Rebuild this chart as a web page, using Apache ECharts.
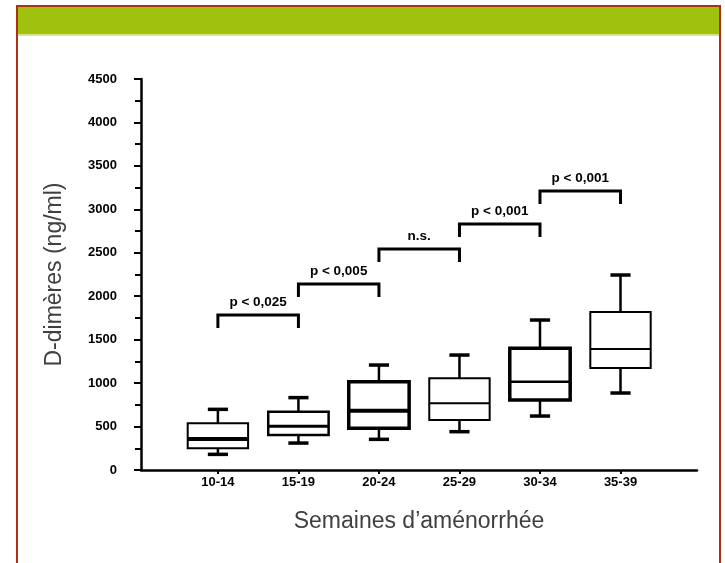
<!DOCTYPE html>
<html>
<head>
<meta charset="utf-8">
<script src="https://cdn.jsdelivr.net/npm/echarts@6/dist/echarts.min.js"></script>
<style>
html,body{margin:0;padding:0;background:#fff;}
#chart{width:725px;height:563px;}
</style>
</head>
<body>
<div id="chart"></div>
<script>
// ---- data ----
var categories = ['10-14', '15-19', '20-24', '25-29', '30-34', '35-39'];
var lowWhisker = [180, 310, 353, 441, 621, 886];
var q1 = [250, 403, 480, 575, 805, 1174];
var median = [357, 503, 682, 767, 1016, 1392];
var q3 = [537, 671, 1016, 1055, 1400, 1818];
var highWhisker = [698, 833, 1208, 1323, 1726, 2244];

var bracketFrom = [0, 1, 2, 3, 4];
var bracketTo = [1, 2, 3, 4, 5];
var bracketLevel = [1784, 2140, 2543, 2831, 3211];
var bracketText = ['p < 0,025', 'p < 0,005', 'n.s.', 'p < 0,001', 'p < 0,001'];

var yTicks = [0, 500, 1000, 1500, 2000, 2500, 3000, 3500, 4000, 4500];

// ---- styles (not data) ----
var boxEdgeWidth = [2, 2.5, 3.5, 2, 3.5, 2];
var medianWidth = [4, 3, 4, 2, 2.5, 2];

var boxData = categories.map(function (c, i) {
  return [i, lowWhisker[i], q1[i], median[i], q3[i], highWhisker[i]];
});
var bracketData = bracketFrom.map(function (f, i) {
  return [f, bracketTo[i], bracketLevel[i], bracketText[i]];
});

var chart = echarts.init(document.getElementById('chart'), null, {renderer: 'canvas'});

function renderBox(params, api) {
  var i = params.dataIndex;
  var x = api.value(0);
  var pLow = api.coord([x, api.value(1)]);
  var pQ1 = api.coord([x, api.value(2)]);
  var pMed = api.coord([x, api.value(3)]);
  var pQ3 = api.coord([x, api.value(4)]);
  var pHigh = api.coord([x, api.value(5)]);
  var half = api.size([0.375, 0])[0];
  var cap = api.size([0.125, 0])[0];
  var cx = pMed[0];
  var ew = boxEdgeWidth[i];
  return {
    type: 'group',
    children: [
      {type: 'line', shape: {x1: cx, y1: pHigh[1], x2: cx, y2: pQ3[1]}, style: {stroke: '#000', lineWidth: 2.5}},
      {type: 'line', shape: {x1: cx, y1: pQ1[1], x2: cx, y2: pLow[1]}, style: {stroke: '#000', lineWidth: 2.5}},
      {type: 'line', shape: {x1: cx - cap, y1: pHigh[1], x2: cx + cap, y2: pHigh[1]}, style: {stroke: '#000', lineWidth: 3.5}},
      {type: 'line', shape: {x1: cx - cap, y1: pLow[1], x2: cx + cap, y2: pLow[1]}, style: {stroke: '#000', lineWidth: 3.5}},
      {type: 'rect', shape: {x: cx - half, y: pQ3[1], width: 2 * half, height: pQ1[1] - pQ3[1]}, style: {stroke: '#000', lineWidth: ew, fill: '#fff'}},
      {type: 'line', shape: {x1: cx - half, y1: pMed[1], x2: cx + half, y2: pMed[1]}, style: {stroke: '#000', lineWidth: medianWidth[i]}}
    ]
  };
}

function renderBracket(params, api) {
  var a = api.coord([api.value(0), api.value(2)]);
  var b = api.coord([api.value(1), api.value(2)]);
  var leg = 13;
  return {
    type: 'group',
    children: [
      {type: 'polyline', shape: {points: [[a[0], a[1] + leg], [a[0], a[1]], [b[0], b[1]], [b[0], b[1] + leg]]},
        style: {stroke: '#000', lineWidth: 3, fill: null}},
      {type: 'text', x: (a[0] + b[0]) / 2, y: a[1] - 13,
        style: {text: api.value(3), fill: '#000', font: 'bold 13.5px "Liberation Sans", Arial, sans-serif',
          align: 'center', verticalAlign: 'middle'}}
    ]
  };
}

var option = {
  animation: false,
  backgroundColor: '#fff',
  graphic: [
    {type: 'rect', shape: {x: 18, y: 7, width: 701, height: 27}, style: {fill: '#a0c20e'}, z: 0},
    {type: 'rect', shape: {x: 18, y: 34, width: 701, height: 2}, style: {fill: '#d4e58a'}, z: 0},
    {type: 'polyline', shape: {points: [[17, 570], [17, 6], [720, 6], [720, 570]]},
      style: {stroke: '#a83214', lineWidth: 2, fill: null}, z: 1}
  ],
  grid: {left: 141, right: 28, top: 79, bottom: 93},
  xAxis: {
    type: 'value',
    min: -0.955,
    max: 5.95,
    splitLine: {show: false},
    axisLine: {show: true, onZero: false, lineStyle: {color: '#000', width: 2.5}},
    axisTick: {show: true, customValues: [0, 1, 2, 3, 4, 5], length: 4, lineStyle: {color: '#000', width: 2}},
    axisLabel: {
      customValues: [0, 1, 2, 3, 4, 5],
      formatter: function (v) { return categories[Math.round(v)] || ''; },
      color: '#000', fontWeight: 'bold', fontSize: 13, margin: 6,
      fontFamily: '"Liberation Sans", Arial, sans-serif'
    },
    name: 'Semaines d\u2019aménorrhée',
    nameLocation: 'middle',
    nameGap: 40,
    nameTextStyle: {color: '#404040', fontSize: 23, fontFamily: '"Liberation Sans", Arial, sans-serif'}
  },
  yAxis: {
    type: 'value',
    min: 0,
    max: 4500,
    interval: 500,
    splitLine: {show: false},
    axisLine: {show: true, onZero: false, lineStyle: {color: '#000', width: 2.5}},
    axisTick: {show: true, length: 7, lineStyle: {color: '#000', width: 2}},
    minorTick: {show: true, splitNumber: 2, length: 6, lineStyle: {color: '#000', width: 2}},
    axisLabel: {
      customValues: yTicks,
      formatter: function (v) { return String(v); },
      color: '#000', fontWeight: 'bold', fontSize: 13, margin: 24,
      fontFamily: '"Liberation Sans", Arial, sans-serif'
    },
    name: 'D-dimères (ng/ml)',
    nameLocation: 'middle',
    nameGap: 75,
    nameTextStyle: {color: '#404040', fontSize: 23, fontFamily: '"Liberation Sans", Arial, sans-serif'}
  },
  series: [
    {
      type: 'custom',
      name: 'box',
      renderItem: renderBox,
      encode: {x: 0, y: [1, 2, 3, 4, 5]},
      data: boxData,
      clip: false,
      z: 3
    },
    {
      type: 'custom',
      name: 'brackets',
      renderItem: renderBracket,
      encode: {x: [0, 1], y: 2},
      data: bracketData,
      clip: false,
      z: 3
    }
  ]
};
chart.setOption(option);
</script>
</body>
</html>
